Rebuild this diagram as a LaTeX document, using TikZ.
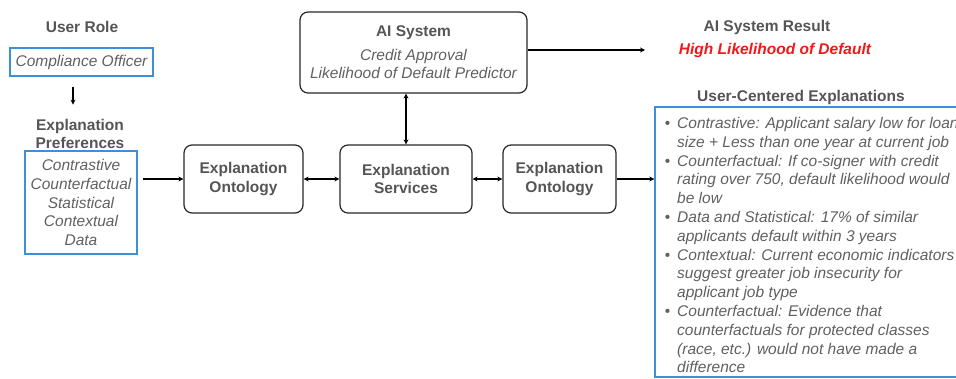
\documentclass[tikz,border=0pt]{standalone}
\usepackage{fontspec}
\setmainfont{Liberation Sans}
\usepackage{tikz}
\usetikzlibrary{arrows.meta}

\definecolor{txtgray}{HTML}{606060}
\definecolor{hdgray}{HTML}{555555}
\definecolor{boxblue}{HTML}{3D8FD6}
\definecolor{resred}{HTML}{F01818}

\begin{document}
\begin{tikzpicture}[x=1pt, y=-1pt,
    font=\fontsize{15.5}{18.8}\selectfont,
    heading/.style={text=hdgray, font=\fontsize{15.5}{18}\selectfont\bfseries, align=center, inner sep=0pt},
    userbox/.style={rectangle, draw=boxblue, line width=1.3pt, text=txtgray, font=\fontsize{15.5}{18.8}\selectfont\itshape, align=center, inner sep=0pt},
    service/.style={rectangle, rounded corners=8pt, draw=black!85, line width=1.2pt, minimum height=68, text=hdgray, font=\fontsize{15.5}{18.5}\selectfont\bfseries, align=center, inner sep=0pt},
    arrow/.style={line width=1.2pt, -{Stealth[length=5pt,width=5pt]}},
    dblarrow/.style={line width=1.2pt, {Stealth[length=5pt,width=5pt]}-{Stealth[length=5pt,width=5pt]}}
]
\clip (0,0) rectangle (956,379);

% User side
\node[heading] (roleTitle) at (82,27) {User Role};
\node[userbox, minimum width=143, minimum height=28] (role) at (81.5,62) {Compliance Officer};
\node[heading] (prefTitle) at (80,134) {Explanation\\Preferences};
\node[userbox, minimum width=112, minimum height=103] (prefs) at (81,202.5) {Contrastive\\Counterfactual\\Statistical\\Contextual\\Data};

% Explanation pipeline
\node[service, minimum width=119] (onto1) at (243.5,179) {Explanation\\Ontology};
\node[service, minimum width=132] (services) at (406,179) {Explanation\\Services};
\node[service, minimum width=113] (onto2) at (559.5,179) {Explanation\\Ontology};
\node[service, minimum width=227, minimum height=81] (aisys) at (413.5,52.5) {AI System\\[5pt]{\mdseries\itshape\color{txtgray}Credit Approval}\\{\mdseries\itshape\color{txtgray}Likelihood of Default Predictor}};

% Result
\node[heading] (resTitle) at (767,27) {AI System Result};
\node[heading, text=resred, font=\fontsize{15.5}{18}\selectfont\bfseries\itshape] (result) at (775,50) {High Likelihood of Default};
\coordinate (resultIn) at (645,50);

% User-centered explanations
\node[heading] (explTitle) at (801,97) {User-Centered Explanations};
\node[rectangle, draw=boxblue, line width=1.3pt, minimum width=330, minimum height=270, inner sep=0pt] (expl) at (820,242) {};
\node[anchor=north west, align=left, inner sep=0pt, text=txtgray, font=\fontsize{15.5}{18.8}\selectfont\itshape] (explText) at (677,117)
  {\llap{\upshape\textbullet\hspace{7pt}}Contrastive: Applicant salary low for loan\\
   size + Less than one year at current job\\
   \llap{\upshape\textbullet\hspace{7pt}}Counterfactual: If co-signer with credit\\
   rating over 750, default likelihood would\\
   be low\\
   \llap{\upshape\textbullet\hspace{7pt}}Data and Statistical: 17\% of similar\\
   applicants default within 3 years\\
   \llap{\upshape\textbullet\hspace{7pt}}Contextual: Current economic indicators\\
   suggest greater job insecurity for\\
   applicant job type\\
   \llap{\upshape\textbullet\hspace{7pt}}Counterfactual: Evidence that\\
   counterfactuals for protected classes\\
   (race, etc.) would not have made a\\
   difference};

% Connectors
\draw[arrow] (role.south) ++(-8.5,10) -- ++(0,18);
\draw[arrow] (prefs.east |- onto1) ++(5,0) -- (onto1.west);
\draw[dblarrow] (onto1.east) -- (services.west);
\draw[dblarrow] (services.east) -- (onto2.west);
\draw[arrow] (onto2.east) -- (expl.west |- onto2);
\draw[dblarrow] (aisys.south -| services) -- (services.north);
\draw[arrow] (aisys.east |- resultIn) -- (resultIn);

\end{tikzpicture}
\end{document}
